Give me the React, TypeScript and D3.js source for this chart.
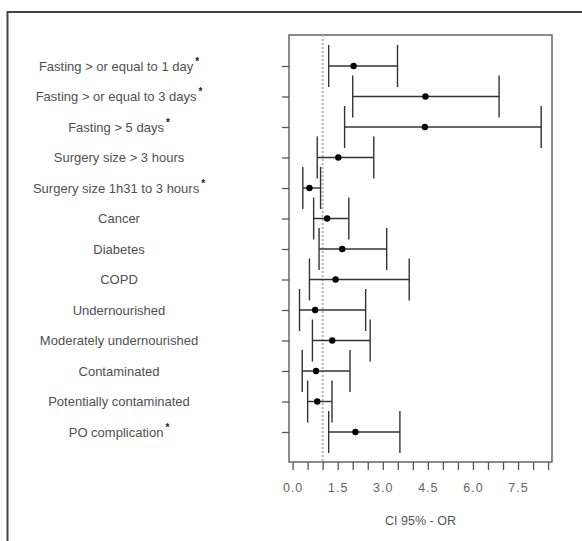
import * as d3 from 'd3';
import { useEffect, useRef } from 'react';

const factors = [
  'Fasting > or equal to 1 day',
  'Fasting > or equal to 3 days',
  'Fasting > 5 days',
  'Surgery size > 3 hours',
  'Surgery size 1h31 to 3 hours',
  'Cancer',
  'Diabetes',
  'COPD',
  'Undernourished',
  'Moderately undernourished',
  'Contaminated',
  'Potentially  contaminated',
  'PO complication',
];
const starred = [true, true, true, false, true, false, false, false, false, false, false, false, true];
const oddsRatio = [2.03, 4.42, 4.40, 1.52, 0.56, 1.15, 1.65, 1.43, 0.75, 1.32, 0.78, 0.82, 2.09];
const ciLow = [1.20, 2.00, 1.73, 0.82, 0.34, 0.70, 0.88, 0.56, 0.23, 0.66, 0.32, 0.50, 1.20];
const ciHigh = [3.49, 6.87, 8.27, 2.70, 0.93, 1.87, 3.13, 3.88, 2.43, 2.58, 1.91, 1.31, 3.57];
const xLabels = [0, 1.5, 3, 4.5, 6, 7.5];
const refValue = 1;

function App() {
  const svgRef = useRef(null);

  useEffect(() => {
    const svg = d3.select(svgRef.current);
    svg.selectAll('*').remove();

    const left = 289, right = 552, top = 35, bottom = 462;
    const x = d3.scaleLinear().domain([-0.12, 8.63]).range([left, right]);
    const y = d3.scalePoint().domain(factors).range([66, 432]);
    const font = '"Liberation Sans", Arial, sans-serif';

    // outer frame (cut off by the picture edge)
    svg.append('rect')
      .attr('x', 7.5).attr('y', 12)
      .attr('width', 640).attr('height', 600)
      .attr('fill', 'none').attr('stroke', '#444').attr('stroke-width', 2);

    // plot box
    svg.append('rect')
      .attr('x', left).attr('y', top)
      .attr('width', right - left).attr('height', bottom - top)
      .attr('fill', 'none').attr('stroke', '#666').attr('stroke-width', 1.5);

    // reference line at OR = 1
    svg.append('line')
      .attr('x1', x(refValue)).attr('x2', x(refValue))
      .attr('y1', top).attr('y2', bottom)
      .attr('stroke', '#b5b5b5').attr('stroke-width', 2)
      .attr('stroke-dasharray', '2,2');

    // x axis
    const xAxis = d3.axisBottom(x)
      .tickValues(d3.range(0, 8.51, 0.5))
      .tickSize(8)
      .tickFormat(d => (xLabels.includes(+d) ? d3.format('.1f')(+d) : ''));
    const gx = svg.append('g')
      .attr('transform', `translate(0,${bottom})`)
      .call(xAxis);
    gx.select('.domain').remove();
    gx.selectAll('line').attr('stroke', '#555').attr('stroke-width', 1.3);
    gx.selectAll('text')
      .attr('y', 21)
      .attr('font-family', font).attr('font-size', 12.5)
      .attr('letter-spacing', 1).attr('fill', '#666');

    svg.append('text')
      .attr('x', (left + right) / 2).attr('y', 525)
      .attr('text-anchor', 'middle')
      .attr('font-family', font).attr('font-size', 12.5)
      .attr('fill', '#555')
      .text('CI 95% - OR');

    // y ticks
    const yAxis = d3.axisLeft(y).tickSize(7).tickFormat(() => '');
    const gy = svg.append('g')
      .attr('transform', `translate(${left},0)`)
      .call(yAxis);
    gy.select('.domain').remove();
    gy.selectAll('line').attr('stroke', '#555').attr('stroke-width', 1.3);

    // row labels
    const labels = svg.append('g')
      .selectAll('text')
      .data(factors)
      .join('text')
      .attr('x', 119)
      .attr('y', d => y(d))
      .attr('dy', '0.36em')
      .attr('text-anchor', 'middle')
      .attr('font-family', font).attr('font-size', 13)
      .attr('fill', '#505050');
    labels.append('tspan').text(d => d);
    labels.filter((d, i) => starred[i])
      .append('tspan')
      .attr('dx', 2).attr('dy', -6)
      .attr('font-size', 10).attr('font-weight', 'bold')
      .attr('fill', '#222')
      .text('*');

    // intervals
    const rows = svg.append('g')
      .selectAll('g')
      .data(factors)
      .join('g')
      .attr('stroke', '#333').attr('stroke-width', 1.4);
    rows.append('line')
      .attr('x1', (d, i) => x(ciLow[i])).attr('x2', (d, i) => x(ciHigh[i]))
      .attr('y1', d => y(d)).attr('y2', d => y(d));
    rows.append('line')
      .attr('x1', (d, i) => x(ciLow[i])).attr('x2', (d, i) => x(ciLow[i]))
      .attr('y1', d => y(d) - 21).attr('y2', d => y(d) + 21);
    rows.append('line')
      .attr('x1', (d, i) => x(ciHigh[i])).attr('x2', (d, i) => x(ciHigh[i]))
      .attr('y1', d => y(d) - 21).attr('y2', d => y(d) + 21);
    rows.append('circle')
      .attr('cx', (d, i) => x(oddsRatio[i]))
      .attr('cy', d => y(d))
      .attr('r', 3.2)
      .attr('fill', '#000').attr('stroke', 'none');
  }, []);

  return (
    <svg ref={svgRef} width={582} height={541}
      style={{ position: 'absolute', left: 0, top: 0, background: '#fff' }} />
  );
}

export default App;
